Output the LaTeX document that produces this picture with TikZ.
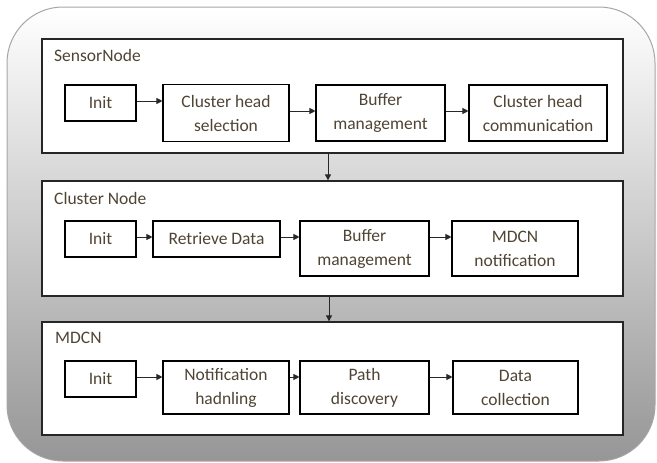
\documentclass[tikz,border=0pt]{standalone}
\usepackage{fontspec}
\setmainfont{Carlito}
\usetikzlibrary{arrows.meta}
\definecolor{txt}{RGB}{80,68,52}
\definecolor{bgbot}{RGB}{150,150,150}
\definecolor{arrc}{RGB}{40,40,40}
\tikzset{
  panel/.style={draw=black!85, line width=1.3pt, fill=white, inner sep=0pt},
  stepbox/.style={draw=black, line width=1.1pt, fill=white, inner sep=0pt, align=center,
     text=txt, font=\fontsize{17.5}{24}\selectfont},
  ptitle/.style={anchor=base west, inner sep=0pt, text=txt, font=\fontsize{17.5}{24}\selectfont},
  arr/.style={draw=arrc, line width=0.9pt, -{Triangle[length=6pt,width=6pt]}}
}
\begin{document}
\begin{tikzpicture}[x=1pt,y=-1pt]
\useasboundingbox (0,0) rectangle (657,463);
\shade[top color=white, bottom color=bgbot, draw=gray!70, line width=1pt, rounded corners=56pt]
  (7,7) rectangle (655,461);

% panels
\node[panel, minimum width=581pt, minimum height=114pt] (p1) at (332.5,96) {};
\node[panel, minimum width=581pt, minimum height=115pt] (p2) at (332.5,238.5) {};
\node[panel, minimum width=581pt, minimum height=113pt] (p3) at (332.5,378.5) {};

\node[ptitle] (t1) at (54,61.5) {SensorNode};
\node[ptitle] (t2) at (54,204) {Cluster Node};
\node[ptitle] (t3) at (55,343) {MDCN};

% row 1
\node[stepbox, minimum width=71pt, minimum height=36pt] (i1) at (100.5,103) {Init};
\node[stepbox, minimum width=126pt, minimum height=56.5pt] (c1) at (226,113) {Cluster head\\selection};
\node[stepbox, minimum width=129pt, minimum height=56pt] (b1) at (380.5,113) {Buffer\\management};
\node[stepbox, minimum width=138pt, minimum height=56pt] (h1) at (538,113) {Cluster head\\communication};

% row 2
\node[stepbox, minimum width=71pt, minimum height=36pt] (i2) at (100.5,239) {Init};
\node[stepbox, minimum width=127pt, minimum height=36pt] (r2) at (216.5,239) {Retrieve Data};
\node[stepbox, minimum width=129pt, minimum height=55pt] (b2) at (364.5,248.5) {Buffer\\management};
\node[stepbox, minimum width=126pt, minimum height=55pt] (m2) at (515,248.5) {MDCN\\notification};

% row 3
\node[stepbox, minimum width=71pt, minimum height=36pt] (i3) at (100.5,379) {Init};
\node[stepbox, minimum width=126pt, minimum height=53pt] (n3) at (226,387.5) {Notification\\hadnling};
\node[stepbox, minimum width=129pt, minimum height=53pt] (q3) at (364.5,387.5) {Path\\discovery};
\node[stepbox, minimum width=125pt, minimum height=53pt] (d3) at (515.5,387.5) {Data\\collection};

% arrows row 1
\draw[arr] (i1.east |- 0,101) -- (c1.west |- 0,101);
\draw[arr] (c1.east |- 0,111) -- (b1.west |- 0,111);
\draw[arr] (b1.east |- 0,111) -- (h1.west |- 0,111);
% arrows row 2
\draw[arr] (i2.east |- 0,237) -- (r2.west |- 0,237);
\draw[arr] (r2.east |- 0,237) -- (b2.west |- 0,237);
\draw[arr] (b2.east |- 0,237) -- (m2.west |- 0,237);
% arrows row 3
\draw[arr] (i3.east |- 0,377) -- (n3.west |- 0,377);
\draw[arr] (n3.east |- 0,377) -- (q3.west |- 0,377);
\draw[arr] (q3.east |- 0,377) -- (d3.west |- 0,377);

% between panels
\draw[arr] ([xshift=-4.5pt]p1.south) -- ([xshift=-4.5pt]p2.north);
\draw[arr] ([xshift=-3.5pt]p2.south) -- ([xshift=-3.5pt]p3.north);
\end{tikzpicture}
\end{document}
